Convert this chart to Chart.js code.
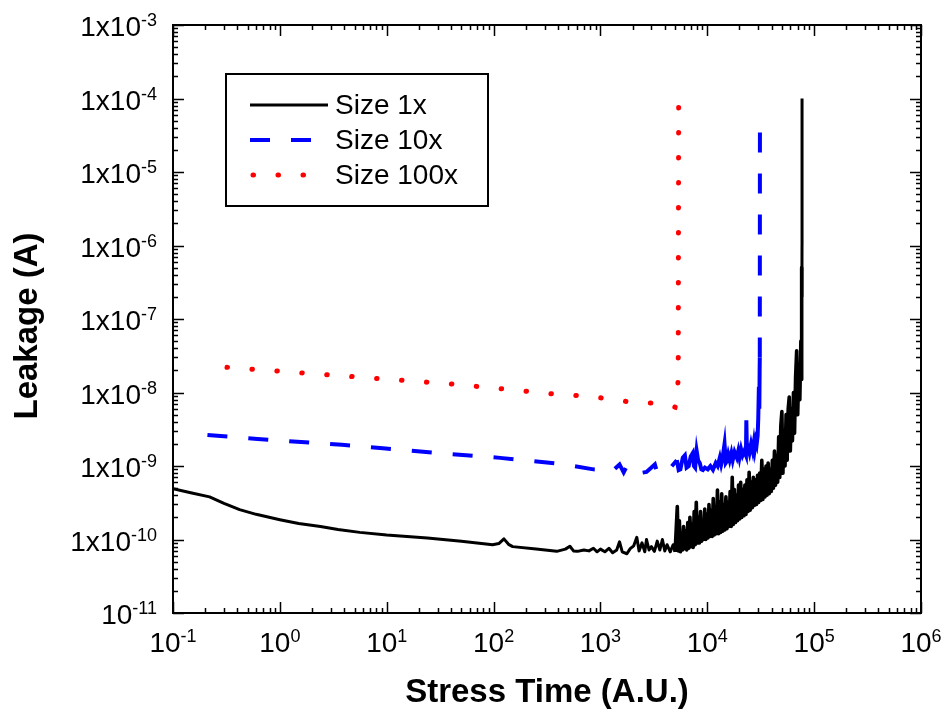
<!DOCTYPE html>
<html>
<head>
<meta charset="utf-8">
<script src="https://cdn.jsdelivr.net/npm/chart.js@4.4.1/dist/chart.umd.min.js"></script>
<style>
  html, body { margin: 0; padding: 0; background: #fff; }
  canvas { display: block; }
</style>
</head>
<body>
<canvas id="chart" width="943" height="715"></canvas>
<script>
// --- data (stress time, leakage in A) ---
const size1Time = [
  0.1, 0.15, 0.22, 0.3, 0.42, 0.6, 1.0, 1.5, 2.4, 3.5, 5.6, 10, 24, 50, 98, 112, 125, 138, 151,
  250, 390, 470, 518, 560, 610, 700, 780, 860, 930,
  1000, 1100, 1200, 1300, 1420, 1510, 1600, 1770, 1900, 2050, 2190, 2300, 2450, 2600, 2700,
  2850, 3000, 3200, 3400, 3600, 3800, 4000, 4200, 4500, 4800,
  5000, 5120, 5240, 5360, 5480, 5600, 5730, 5860, 6000, 6140, 6280, 6420, 6570, 6720, 6880,
  7040, 7200, 7370, 7540, 7710, 7890, 8070, 8260, 8450, 8650, 8850, 9050, 9260, 9470, 9690,
  9910, 10140, 10370, 10610, 10860, 11110, 11370, 11630, 11900, 12170, 12450, 12740, 13030,
  13330, 13640, 13950, 14270, 14600, 14940, 15280, 15630, 15990, 16360, 16740, 17120, 17520,
  17920, 18330, 18750, 19180, 19620, 20070, 20540, 21010, 21490, 21990, 22490, 23010, 23540,
  24080, 24640, 25200, 25780, 26380, 26980, 27600, 28240, 28890, 29550, 30230, 30930, 31640,
  32370, 33110, 33880, 34660, 35450, 36270, 37100, 37960, 38830, 39720, 40640, 41570, 42530,
  43510, 44510, 45540, 46590, 47660, 48760, 49880, 51030, 52200, 53400, 54630, 55890, 57180,
  58490, 59840, 61220, 62630, 64070, 65540, 67050, 68600, 70170, 71790, 73440, 75130, 75600,
  76000, 76300, 76600, 76800, 77000, 77050
];
const size1Leak = [
  4.9e-10, 4.3e-10, 3.8e-10, 3.1e-10, 2.55e-10, 2.2e-10, 1.86e-10, 1.65e-10, 1.5e-10, 1.37e-10,
  1.25e-10, 1.15e-10, 1.05e-10, 9.5e-11, 8.5e-11, 8.8e-11, 1.02e-10, 8.6e-11, 8.0e-11,
  7.4e-11, 6.9e-11, 7.4e-11, 8.1e-11, 7.0e-11, 6.9e-11, 7.2e-11, 7.0e-11, 7.6e-11, 6.8e-11,
  7.4e-11, 6.8e-11, 7.6e-11, 6.6e-11, 7.2e-11, 9.3e-11, 6.8e-11, 6.4e-11, 7.5e-11, 8.2e-11,
  1.07e-10, 7.0e-11, 9.0e-11, 6.8e-11, 1.0e-10,
  7.2e-11, 8.0e-11, 6.9e-11, 9.5e-11, 7.2e-11, 1.0e-10, 7.0e-11, 8.5e-11, 6.8e-11, 8.5e-11,
  6.8e-11, 1.4e-10, 2.8e-10, 7.0e-11, 1.8e-10, 6.8e-11, 1.2e-10, 7.2e-11, 1.5e-10, 7.5e-11,
  1.3e-10, 7.2e-11, 1.7e-10, 7.6e-11, 2.0e-10,
  8.0e-11, 1.6e-10, 7.8e-11, 2.4e-10, 8.5e-11, 3.2e-10, 9.0e-11, 2.0e-10, 9.0e-11, 2.4e-10,
  9.5e-11, 1.8e-10, 1.0e-10, 2.6e-10, 1.0e-10,
  2.2e-10, 1.05e-10, 3.0e-10, 1.1e-10, 2.5e-10, 1.1e-10, 3.6e-10, 1.15e-10, 2.8e-10, 1.2e-10,
  4.7e-10, 1.2e-10, 3.2e-10,
  1.25e-10, 4.2e-10, 1.3e-10, 3.0e-10, 1.35e-10, 3.8e-10, 1.4e-10, 3.2e-10, 1.5e-10, 4.5e-10,
  1.5e-10, 7.0e-10, 1.6e-10,
  4.8e-10, 1.7e-10, 4.0e-10, 1.8e-10, 5.5e-10, 1.9e-10, 6.0e-10, 2.0e-10, 4.8e-10, 2.1e-10,
  5.5e-10, 2.2e-10, 6.5e-10,
  2.4e-10, 8.2e-10, 2.5e-10, 6.0e-10, 2.7e-10, 7.0e-10, 2.9e-10, 6.5e-10, 3.0e-10, 7.5e-10,
  3.2e-10, 8.0e-10, 3.4e-10,
  1.2e-9, 3.5e-10, 9.0e-10, 3.8e-10, 1.0e-9, 4.0e-10, 1.1e-9, 4.2e-10, 9.0e-10, 4.5e-10,
  1.2e-9, 5.0e-10, 1.6e-9,
  5.5e-10, 1.4e-9, 6.0e-10, 2.5e-9, 7.0e-10, 3.5e-9, 5.5e-9, 8.0e-10, 3.0e-9, 1.0e-9,
  5.0e-9, 1.2e-9, 6.0e-9,
  8.7e-9, 1.6e-9, 6.0e-9, 2.2e-9, 1.0e-8, 2.8e-9, 1.6e-8, 3.7e-8, 5.0e-9, 2.0e-8, 8.0e-9,
  5.0e-8, 1.5e-8,
  3.0e-7, 6.0e-8, 5.0e-7, 2.0e-7, 1.0e-6, 1.0e-4
];

const size10Time = [
  0.21, 0.62, 3.8, 9.2, 30, 115, 420, 860,
  1000, 1300, 1510, 1650, 1770, 2000, 2340, 2700, 3230, 3400, 3600, 4200,
  5190, 5400, 5600, 5900, 6170, 6400, 6700, 7000, 7310, 7500, 7700, 7950, 8200, 8510, 8800,
  9090, 9500, 10100, 10700, 11300, 12000, 12500, 13100, 13500, 13800, 14500, 14900, 15200,
  15700, 16200, 16800, 17300, 18000, 18900, 19500, 20000, 20700, 21400, 22200, 23000, 23200,
  23500, 24000, 24800, 25700, 26600, 27300, 27800, 28500, 29000, 29600, 30000, 30400, 30700,
  30900, 31000, 31100
];
const size10Leak = [
  2.65e-9, 2.33e-9, 1.94e-9, 1.74e-9, 1.5e-9, 1.29e-9, 1.07e-9, 9.0e-10,
  8.9e-10, 8.6e-10, 1.05e-9, 8.2e-10, 1.0e-9, 8.2e-10, 8.0e-10, 8.3e-10, 1.05e-9, 8.1e-10,
  8.0e-10, 8.3e-10,
  1.2e-9, 8.8e-10, 9.0e-10, 1.3e-9, 1.4e-9, 9.5e-10, 1.0e-9, 1.35e-9, 1.5e-9, 1.0e-9, 9.5e-10,
  1.6e-9, 1.2e-9, 1.1e-9, 9.0e-10,
  8.8e-10, 9.5e-10, 9.0e-10, 1.0e-9, 8.9e-10, 1.1e-9, 1.0e-9, 1.3e-9, 1.05e-9, 1.2e-9, 2.0e-9,
  1.1e-9, 1.15e-9,
  1.45e-9, 1.2e-9, 1.5e-9, 1.2e-9, 1.55e-9, 1.3e-9, 1.6e-9, 1.3e-9, 1.7e-9, 1.4e-9, 1.6e-9,
  1.4e-9, 4.2e-9,
  1.5e-9, 1.8e-9, 1.5e-9, 2.0e-9, 1.6e-9, 2.1e-9, 1.7e-9, 2.2e-9, 2.0e-9, 2.6e-9, 4.5e-9,
  1.2e-8, 6.0e-9,
  2.0e-8, 3.0e-8, 6.0e-5
];

const size100Time = [0.32, 42, 355, 830, 2200, 3500, 5000, 5200, 5300, 5350, 5400];
const size100Leak = [2.2e-8, 1.3e-8, 9.6e-9, 8.8e-9, 7.2e-9, 7.2e-9, 6.3e-9, 7.5e-9, 1.2e-8, 2.0e-8, 8.5e-5];

// stretch of the Size 10x trace that was drawn solid (dense noise)
const size10SolidFrom = 5000;
const size10SolidTo = 31000;
// Size 1x trace gets heavier where it turns noisy
const size1NoisyFrom = 5000;

const seriesNames = ['Size 1x', 'Size 10x', 'Size 100x'];

// tick labels: base text + superscript
const xTickExp = ['-1', '0', '1', '2', '3', '4', '5', '6'];
const yTickBase = ['10', '1x10', '1x10', '1x10', '1x10', '1x10', '1x10', '1x10', '1x10'];
const yTickExp = ['-11', '-10', '-9', '-8', '-7', '-6', '-5', '-4', '-3'];

const xTitle = 'Stress Time (A.U.)';
const yTitle = 'Leakage (A)';

const FONT = '"Liberation Sans", Arial, Helvetica, sans-serif';

function pts(xs, ys) {
  return xs.map((v, i) => ({ x: v, y: ys[i] }));
}

// frame, inward log ticks, superscript labels, titles and boxed legend
const decor = {
  id: 'decor',
  afterDatasetsDraw(chart) {
    const { ctx, chartArea: a, scales: { x, y } } = chart;
    ctx.save();

    // ticks on all four sides, pointing in
    ctx.strokeStyle = '#000';
    ctx.lineWidth = 1.5;
    ctx.beginPath();
    for (let d = -1; d <= 6; d++) {
      for (let m = 1; m <= 9; m++) {
        const v = m * Math.pow(10, d);
        if (v > 1e6 * 1.0001) break;
        const px = Math.round(x.getPixelForValue(v)) + 0.5;
        const len = m === 1 ? 11 : 5;
        ctx.moveTo(px, a.bottom); ctx.lineTo(px, a.bottom - len);
        ctx.moveTo(px, a.top); ctx.lineTo(px, a.top + len);
      }
    }
    for (let d = -11; d <= -3; d++) {
      for (let m = 1; m <= 9; m++) {
        const v = m * Math.pow(10, d);
        if (v > 1e-3 * 1.0001) break;
        const py = Math.round(y.getPixelForValue(v)) + 0.5;
        const len = m === 1 ? 11 : 5;
        ctx.moveTo(a.left, py); ctx.lineTo(a.left + len, py);
        ctx.moveTo(a.right, py); ctx.lineTo(a.right - len, py);
      }
    }
    ctx.stroke();

    ctx.lineWidth = 2;
    ctx.strokeRect(a.left, a.top, a.right - a.left, a.bottom - a.top);

    ctx.fillStyle = '#000';
    ctx.textBaseline = 'alphabetic';

    // y tick labels, right aligned
    yTickExp.forEach((e, i) => {
      const py = y.getPixelForValue(Math.pow(10, -11 + i));
      ctx.font = '18px ' + FONT;
      const ew = ctx.measureText(e).width;
      const right = 157;
      ctx.textAlign = 'left';
      ctx.fillText(e, right - ew, py + 1);
      ctx.font = '28px ' + FONT;
      ctx.textAlign = 'right';
      ctx.fillText(yTickBase[i], right - ew, py + 11);
    });

    // x tick labels, centred on tick
    xTickExp.forEach((e, i) => {
      const px = x.getPixelForValue(Math.pow(10, -1 + i));
      ctx.font = '28px ' + FONT;
      const bw = ctx.measureText('10').width;
      ctx.font = '18px ' + FONT;
      const ew = ctx.measureText(e).width;
      const start = px - (bw + ew) / 2;
      ctx.textAlign = 'left';
      ctx.fillText(e, start + bw, a.bottom + 29);
      ctx.font = '28px ' + FONT;
      ctx.fillText('10', start, a.bottom + 39);
    });

    // axis titles
    ctx.font = 'bold 33px ' + FONT;
    ctx.textAlign = 'center';
    ctx.textBaseline = 'middle';
    ctx.fillText(xTitle, (a.left + a.right) / 2, 693);
    ctx.save();
    ctx.translate(28, 326);
    ctx.rotate(-Math.PI / 2);
    ctx.fillText(yTitle, 0, 0);
    ctx.restore();

    // legend box
    ctx.lineWidth = 2;
    ctx.strokeStyle = '#000';
    ctx.strokeRect(226, 74, 262, 132);
    chart.data.datasets.forEach((ds, i) => {
      const ly = 105 + i * 35;
      ctx.save();
      ctx.strokeStyle = ds.borderColor;
      ctx.lineWidth = ds.borderWidth;
      ctx.lineCap = ds.borderCapStyle || 'butt';
      ctx.setLineDash(ds.borderDash || []);
      ctx.beginPath();
      ctx.moveTo(i === 2 ? 253 : 250, ly);
      ctx.lineTo(328, ly);
      ctx.stroke();
      ctx.restore();
      ctx.font = '28px ' + FONT;
      ctx.textAlign = 'left';
      ctx.textBaseline = 'middle';
      ctx.fillStyle = '#000';
      ctx.fillText(seriesNames[i], 335, ly + 1);
    });

    ctx.restore();
  }
};

new Chart(document.getElementById('chart'), {
  type: 'line',
  data: {
    datasets: [
      {
        label: seriesNames[0],
        data: pts(size1Time, size1Leak),
        borderColor: '#000000',
        borderWidth: 3,
        borderJoinStyle: 'round',
        pointRadius: 0,
        tension: 0,
        segment: {
          borderWidth: (c) => (c.p0.parsed.x >= size1NoisyFrom && c.p1.parsed.y < 1e-6 ? 3.6 : undefined)
        }
      },
      {
        label: seriesNames[1],
        data: pts(size10Time, size10Leak),
        borderColor: '#0000ff',
        borderWidth: 4,
        borderDash: [20, 21],
        pointRadius: 0,
        tension: 0,
        segment: {
          borderDash: (c) =>
            c.p0.parsed.x >= size10SolidFrom && c.p1.parsed.x <= size10SolidTo ? [] : undefined
        }
      },
      {
        label: seriesNames[2],
        data: pts(size100Time, size100Leak),
        borderColor: '#ff0000',
        borderWidth: 5,
        borderDash: [0.5, 24.5],
        borderCapStyle: 'round',
        pointRadius: 0,
        tension: 0
      }
    ]
  },
  options: {
    responsive: false,
    animation: false,
    devicePixelRatio: 1,
    events: [],
    layout: { padding: { left: 173, right: 22, top: 25, bottom: 102 } },
    plugins: { legend: { display: false }, tooltip: { enabled: false } },
    scales: {
      x: { type: 'logarithmic', min: 0.1, max: 1e6, display: false },
      y: { type: 'logarithmic', min: 1e-11, max: 1e-3, display: false }
    }
  },
  plugins: [decor]
});
</script>
</body>
</html>
